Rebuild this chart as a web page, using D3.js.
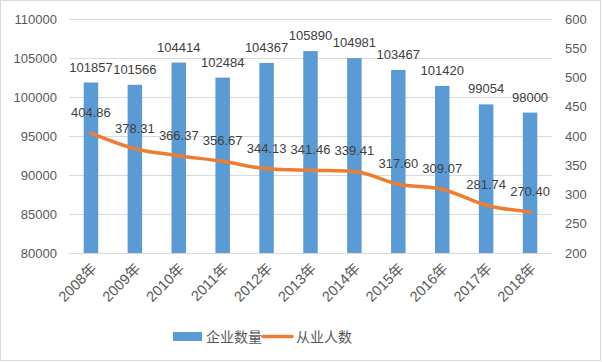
<!DOCTYPE html>
<html>
<head>
<meta charset="utf-8">
<script src="https://cdn.jsdelivr.net/npm/d3@7"></script>
<style>
  body { margin: 0; background: #fff; }
  text { font-family: "Liberation Sans", "Noto Sans CJK SC", sans-serif; }
</style>
</head>
<body>
<svg id="chart"></svg>
<script>
// chart data
const years = ["2008年", "2009年", "2010年", "2011年", "2012年", "2013年", "2014年", "2015年", "2016年", "2017年", "2018年"];
const companies = [101857, 101566, 104414, 102484, 104367, 105890, 104981, 103467, 101420, 99054, 98000];
const workers = [404.86, 378.31, 366.37, 356.67, 344.13, 341.46, 339.41, 317.60, 309.07, 281.74, 270.40];
const leftTicks = [80000, 85000, 90000, 95000, 100000, 105000, 110000];
const rightTicks = [200, 250, 300, 350, 400, 450, 500, 550, 600];

const width = 602;
const height = 362;
const margin = { top: 19, right: 50, bottom: 109, left: 69 };
const innerWidth = width - margin.left - margin.right;
const innerHeight = height - margin.top - margin.bottom;

const svg = d3.select("#chart")
    .attr("width", width)
    .attr("height", height);

// outer border
svg.append("rect")
    .attr("x", 0.5).attr("y", 0.5)
    .attr("width", width - 2).attr("height", height - 2)
    .attr("fill", "#fff")
    .attr("stroke", "#d9d9d9");

const g = svg.append("g")
    .attr("transform", `translate(${margin.left},${margin.top})`);

const xScale = d3.scaleBand()
    .domain(years)
    .range([0, innerWidth])
    .paddingInner(0.67)
    .paddingOuter(0.335);

const yLeft = d3.scaleLinear().domain([80000, 110000]).range([innerHeight, 0]);
const yRight = d3.scaleLinear().domain([200, 600]).range([innerHeight, 0]);

// gridlines
g.append("g")
    .selectAll("line")
    .data(leftTicks)
    .enter().append("line")
    .attr("x1", 0).attr("x2", innerWidth)
    .attr("y1", d => Math.round(yLeft(d)) + 0.5)
    .attr("y2", d => Math.round(yLeft(d)) + 0.5)
    .attr("stroke", "#d9d9d9");

// left axis
const leftAxis = g.append("g")
    .call(d3.axisLeft(yLeft).tickValues(leftTicks).tickSize(0).tickPadding(12).tickFormat(d3.format("d")));
leftAxis.select(".domain").remove();
leftAxis.selectAll("text").attr("fill", "#595959").attr("font-size", 13);

// right axis
const rightAxis = g.append("g")
    .attr("transform", `translate(${innerWidth},0)`)
    .call(d3.axisRight(yRight).tickValues(rightTicks).tickSize(0).tickPadding(13));
rightAxis.select(".domain").remove();
rightAxis.selectAll("text").attr("fill", "#595959").attr("font-size", 13);

// x axis
const xAxis = g.append("g")
    .attr("transform", `translate(0,${innerHeight})`)
    .call(d3.axisBottom(xScale).tickSize(0).tickPadding(0));
xAxis.select(".domain").remove();
xAxis.selectAll("text")
    .attr("fill", "#595959")
    .attr("font-size", 14.5)
    .attr("text-anchor", "end")
    .attr("dy", "0.35em")
    .attr("transform", "translate(3,13) rotate(-45)");

// bars
g.selectAll(".bar")
    .data(companies)
    .enter().append("rect")
    .attr("class", "bar")
    .attr("x", (d, i) => xScale(years[i]))
    .attr("y", d => yLeft(d))
    .attr("width", xScale.bandwidth())
    .attr("height", d => innerHeight - yLeft(d))
    .attr("fill", "#5b9bd5");

// bar labels
g.selectAll(".bar-label")
    .data(companies)
    .enter().append("text")
    .attr("class", "bar-label")
    .attr("x", (d, i) => xScale(years[i]) + xScale.bandwidth() / 2)
    .attr("y", d => yLeft(d) - 11)
    .attr("text-anchor", "middle")
    .attr("font-size", 13)
    .attr("fill", "#404040")
    .text(d => d);

// line
const line = d3.line()
    .x((d, i) => xScale(years[i]) + xScale.bandwidth() / 2)
    .y(d => yRight(d))
    .curve(d3.curveMonotoneX);

g.append("path")
    .datum(workers)
    .attr("d", line)
    .attr("fill", "none")
    .attr("stroke", "#ed7d31")
    .attr("stroke-width", 3.5)
    .attr("stroke-linejoin", "round")
    .attr("stroke-linecap", "round");

// line labels
g.selectAll(".line-label")
    .data(workers)
    .enter().append("text")
    .attr("class", "line-label")
    .attr("x", (d, i) => xScale(years[i]) + xScale.bandwidth() / 2)
    .attr("y", d => yRight(d) - 16)
    .attr("text-anchor", "middle")
    .attr("font-size", 13)
    .attr("fill", "#404040")
    .text(d => d.toFixed(2));

// legend
const legend = svg.append("g");
legend.append("rect")
    .attr("x", 173).attr("y", 332)
    .attr("width", 29).attr("height", 9)
    .attr("fill", "#5b9bd5");
legend.append("text")
    .attr("x", 206).attr("y", 342)
    .attr("font-size", 14)
    .attr("fill", "#595959")
    .attr("font-family", "Noto Sans CJK SC")
    .text("企业数量");
legend.append("line")
    .attr("x1", 263).attr("x2", 292)
    .attr("y1", 336.5).attr("y2", 336.5)
    .attr("stroke", "#ed7d31")
    .attr("stroke-width", 3.5)
    .attr("stroke-linecap", "round");
legend.append("text")
    .attr("x", 296).attr("y", 342)
    .attr("font-size", 14)
    .attr("fill", "#595959")
    .attr("font-family", "Noto Sans CJK SC")
    .text("从业人数");
</script>
</body>
</html>
